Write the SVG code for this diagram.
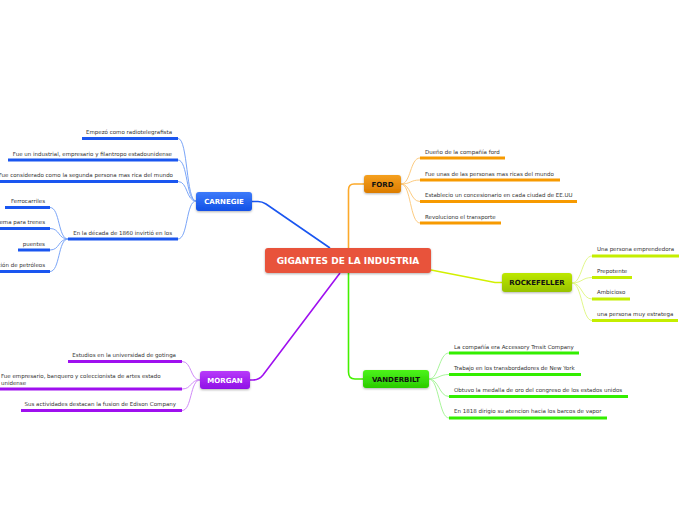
<svg xmlns="http://www.w3.org/2000/svg" width="696" height="520" viewBox="0 0 696 520">
<style>
.t{font-family:"DejaVu Sans",Verdana,sans-serif;font-size:5.5px;fill:#333}
.e{text-anchor:end}
.n{font-family:"DejaVu Sans",Verdana,sans-serif;font-size:7px;font-weight:bold;text-anchor:middle}
.w{fill:#fff}.k{fill:#111}
.cl{fill:none;stroke-width:1}
.ul{fill:none;stroke-width:3}
.blue{stroke:#1a56f0}.bluec{stroke:#7aa5f8}
.or{stroke:#f79a00}.orc{stroke:#fdcb80}
.yg{stroke:#c4ee00}.ygc{stroke:#e2f88a}
.gr{stroke:#33ee00}.grc{stroke:#a8f59a}
.pu{stroke:#9f10ef}.puc{stroke:#d08af8}
</style>
<defs>
<linearGradient id="gB" x1="0" y1="0" x2="0" y2="1"><stop offset="0" stop-color="#3d7bfa"/><stop offset="1" stop-color="#1150e6"/></linearGradient>
<linearGradient id="gO" x1="0" y1="0" x2="0" y2="1"><stop offset="0" stop-color="#f5a020"/><stop offset="1" stop-color="#dc7c00"/></linearGradient>
<linearGradient id="gY" x1="0" y1="0" x2="0" y2="1"><stop offset="0" stop-color="#bde800"/><stop offset="1" stop-color="#97c200"/></linearGradient>
<linearGradient id="gG" x1="0" y1="0" x2="0" y2="1"><stop offset="0" stop-color="#4cf41a"/><stop offset="1" stop-color="#2acb00"/></linearGradient>
<linearGradient id="gP" x1="0" y1="0" x2="0" y2="1"><stop offset="0" stop-color="#b83cfa"/><stop offset="1" stop-color="#8f0ee6"/></linearGradient>
<filter id="sh" x="-20%" y="-30%" width="140%" height="170%"><feDropShadow dx="0" dy="1" stdDeviation="0.8" flood-color="#000" flood-opacity="0.3"/></filter>
</defs>
<rect width="696" height="520" fill="#fff"/>

<g id="connectors">
  <path d="M252,201.5 L258,201.5 Q262,201.5 266,204 L330,248" fill="none" stroke="#1a56f0" stroke-width="1.6"/>
  <path d="M364,184 L354,184 Q348.5,184 348.5,190 L348.5,248" fill="none" stroke="#fca92a" stroke-width="1.6"/>
  <path d="M348.5,273 L348.5,372 Q348.5,379 355,379 L363,379" fill="none" stroke="#44f000" stroke-width="1.6"/>
  <path d="M340,273 L263,375 Q259,380 253,380 L250,380" fill="none" stroke="#9f10ef" stroke-width="1.6"/>
  <path d="M431,270 L495,282.5 L502,282.5" fill="none" stroke="#d2f000" stroke-width="1.4"/>
  <g class="cl bluec">
    <path d="M196,201 C186,201 188,138.5 178,138.5"/>
    <path d="M196,201 C186,201 188,160 178,160"/>
    <path d="M196,201 C186,201 188,181.5 178,181.5"/>
    <path d="M196,201 C186,201 188,239 178,239"/>
    <path d="M68,239 C58,239 60,207.5 50,207.5"/>
    <path d="M68,239 C58,239 60,228.5 50,228.5"/>
    <path d="M68,239 C58,239 60,250 50,250"/>
    <path d="M68,239 C58,239 60,271.5 50,271.5"/>
  </g>
  <g class="cl orc">
    <path d="M401,184 C411,184 410,158 420,158"/>
    <path d="M401,184 C411,184 410,180 420,180"/>
    <path d="M401,184 C411,184 410,201.5 420,201.5"/>
    <path d="M401,184 C411,184 410,223 420,223"/>
  </g>
  <g class="cl ygc">
    <path d="M572,283 C582,283 582,256 592,256"/>
    <path d="M572,283 C582,283 582,277.5 592,277.5"/>
    <path d="M572,283 C582,283 582,299 592,299"/>
    <path d="M572,283 C582,283 582,320.5 592,320.5"/>
  </g>
  <g class="cl grc">
    <path d="M429,379 C439,379 439,353 449,353"/>
    <path d="M429,379 C439,379 439,374.5 449,374.5"/>
    <path d="M429,379 C439,379 439,396.5 449,396.5"/>
    <path d="M429,379 C439,379 439,418 449,418"/>
  </g>
  <g class="cl puc">
    <path d="M200,380 C190,380 192,361.5 182,361.5"/>
    <path d="M200,380 C190,380 192,389 182,389"/>
    <path d="M200,380 C190,380 192,410.5 182,410.5"/>
  </g>
</g>

<g id="center">
  <rect x="265" y="248" width="166" height="25" rx="3" fill="#e8533b" filter="url(#sh)"/>
  <text x="348" y="264" class="n w" style="font-size:9px">GIGANTES DE LA INDUSTRIA</text>
</g>

<g id="carnegie">
  <rect x="196" y="192" width="56" height="19" rx="3" fill="url(#gB)" filter="url(#sh)"/>
  <text x="224" y="204" class="n w">CARNEGIE</text>
</g>
<g id="carnegie-1"><text x="172" y="134" class="t e">Empezó como radiotelegrafista</text><path class="ul blue" d="M82,138.5 H178"/></g>
<g id="carnegie-2"><text x="172" y="155.5" class="t e">Fue un industrial, empresario y filantropo estadounidense</text><path class="ul blue" d="M8,160 H178"/></g>
<g id="carnegie-3"><text x="173" y="177" class="t e">Fue considerado como la segunda persona mas rica del mundo</text><path class="ul blue" d="M0,181.5 H178"/></g>
<g id="carnegie-4"><text x="172" y="234.5" class="t e">En la década de 1860 invirtió en los</text><path class="ul blue" d="M68,239 H178"/></g>
<g id="carnegie-4-1"><text x="45" y="202.5" class="t e">Ferrocarriles</text><path class="ul blue" d="M5,207.5 H50"/></g>
<g id="carnegie-4-2"><text x="45" y="224" class="t e">Sistema para trenes</text><path class="ul blue" d="M0,228.5 H50"/></g>
<g id="carnegie-4-3"><text x="45" y="245.5" class="t e">puentes</text><path class="ul blue" d="M18,250 H50"/></g>
<g id="carnegie-4-4"><text x="45" y="267" class="t e">Extracción de petróleos</text><path class="ul blue" d="M0,271.5 H50"/></g>

<g id="ford">
  <rect x="364" y="175" width="37" height="18" rx="3" fill="url(#gO)" filter="url(#sh)"/>
  <text x="382.5" y="186.5" class="n k">FORD</text>
</g>
<g id="ford-1"><text x="425" y="153.5" class="t">Dueño de la compañía ford</text><path class="ul or" d="M420,158 H505"/></g>
<g id="ford-2"><text x="425" y="175.5" class="t">Fue unas de las personas mas ricas del mundo</text><path class="ul or" d="M420,180 H560"/></g>
<g id="ford-3"><text x="425" y="197" class="t">Establecio un concesionario en cada ciudad de EE.UU</text><path class="ul or" d="M420,201.5 H577"/></g>
<g id="ford-4"><text x="425" y="218.5" class="t">Revoluciono el transporte</text><path class="ul or" d="M420,223 H501"/></g>

<g id="rockefeller">
  <rect x="502" y="273" width="70" height="19" rx="3" fill="url(#gY)" filter="url(#sh)"/>
  <text x="537" y="285" class="n k">ROCKEFELLER</text>
</g>
<g id="rockefeller-1"><text x="597" y="251" class="t">Una persona emprendedora</text><path class="ul yg" d="M592,256 H679"/></g>
<g id="rockefeller-2"><text x="597" y="272.5" class="t">Prepotente</text><path class="ul yg" d="M592,277.5 H632"/></g>
<g id="rockefeller-3"><text x="597" y="294" class="t">Ambicioso</text><path class="ul yg" d="M592,299 H630"/></g>
<g id="rockefeller-4"><text x="597" y="315.5" class="t">una persona muy estratega</text><path class="ul yg" d="M592,320.5 H678"/></g>

<g id="vanderbilt">
  <rect x="363" y="370" width="66" height="18" rx="3" fill="url(#gG)" filter="url(#sh)"/>
  <text x="396" y="381.5" class="n k">VANDERBILT</text>
</g>
<g id="vanderbilt-1"><text x="454" y="348.5" class="t">La compañía era Accessory Trnsit Company</text><path class="ul gr" d="M449,353 H579"/></g>
<g id="vanderbilt-2"><text x="454" y="369.5" class="t">Trabajo en los transbordadores de New York</text><path class="ul gr" d="M449,374.5 H581"/></g>
<g id="vanderbilt-3"><text x="454" y="391.5" class="t">Obtuvo la medalla de oro del congreso de los estados unidos</text><path class="ul gr" d="M449,396.5 H628"/></g>
<g id="vanderbilt-4"><text x="454" y="413" class="t">En 1818 dirigio su atencion hacia los barcos de vapor</text><path class="ul gr" d="M449,418 H607"/></g>

<g id="morgan">
  <rect x="200" y="371" width="50" height="18" rx="3" fill="url(#gP)" filter="url(#sh)"/>
  <text x="225" y="382.5" class="n w">MORGAN</text>
</g>
<g id="morgan-1"><text x="176" y="356.5" class="t e">Estudios en la universidad de gotinga</text><path class="ul pu" d="M68,361.5 H182"/></g>
<g id="morgan-2"><text x="1" y="378" class="t">Fue empresario, banquero y coleccionista de artes estado</text><text x="1" y="384.5" class="t">unidense</text><path class="ul pu" d="M0,389 H182"/></g>
<g id="morgan-3"><text x="176" y="406" class="t e">Sus actividades destacan la fusion de Edison Company</text><path class="ul pu" d="M21,410.5 H182"/></g>
</svg>
